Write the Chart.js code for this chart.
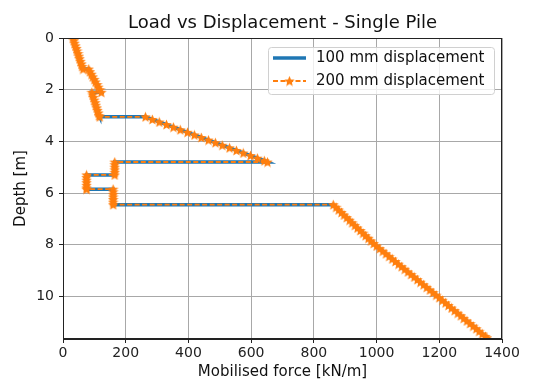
<!DOCTYPE html>
<html>
<head>
<meta charset="utf-8">
<script src="https://cdn.jsdelivr.net/npm/chart.js@4.4.1/dist/chart.umd.min.js"></script>
<style>
  html, body { margin: 0; padding: 0; background: #fff; }
  #wrap { width: 539px; height: 381px; }
</style>
</head>
<body>
<div id="wrap"><canvas id="pileChart" width="539" height="381"></canvas></div>
<script>
const chartTitle = 'Load vs Displacement - Single Pile';
const seriesNames = ['100 mm displacement', '200 mm displacement'];
const xTitle = 'Mobilised force [kN/m]';
const yTitle = 'Depth [m]';
const xTicks = [0, 200, 400, 600, 800, 1000, 1200, 1400];
const yTicks = [0, 2, 4, 6, 8, 10];

// depth below ground [m], one entry per calculation node
const depth = [
  0, 0.1, 0.2, 0.3, 0.4, 0.5, 0.6, 0.7, 0.8, 0.9, 1.0, 1.1, 1.2,
  1.2, 1.3, 1.4, 1.5, 1.6, 1.7, 1.8, 1.9, 2.0, 2.1,
  2.1, 2.2, 2.3, 2.4, 2.5, 2.6, 2.7, 2.8, 2.9, 3.0, 3.05,
  3.05, 3.15, 3.25, 3.35, 3.45, 3.55, 3.65, 3.75, 3.85, 3.95, 4.05, 4.15, 4.25, 4.35, 4.45, 4.55, 4.65, 4.75, 4.8,
  4.8, 4.9, 5.0, 5.1, 5.2, 5.3,
  5.3, 5.4, 5.5, 5.6, 5.7, 5.8, 5.85,
  5.85, 5.95, 6.05, 6.15, 6.25, 6.35, 6.45,
  6.45, 6.55, 6.65, 6.75, 6.85, 6.95, 7.05, 7.15, 7.25, 7.35,
  7.45, 7.55, 7.65, 7.75, 7.85, 7.95, 8.05, 8.15, 8.25, 8.35,
  8.45, 8.55, 8.65, 8.75, 8.85, 8.95, 9.05, 9.15, 9.25, 9.35,
  9.45, 9.55, 9.65, 9.75, 9.85, 9.95, 10.05, 10.15, 10.25, 10.35,
  10.45, 10.55, 10.65, 10.75, 10.85, 10.95, 11.05, 11.15, 11.25, 11.35,
  11.45, 11.55, 11.6
];

// mobilised force [kN/m] for 100 mm pile displacement
const force100 = [
  32, 35, 37, 40, 43, 45, 48, 51, 53, 56, 59, 61, 64,
  82, 86, 91, 95, 100, 104, 109, 113, 118, 122,
  92, 95, 97, 100, 103, 105, 108, 110, 113, 115, 117,
  263, 285, 307, 330, 352, 374, 397, 419, 441, 464, 486, 508, 531, 553, 575, 598, 620, 642, 652,
  165, 165, 165, 165, 165, 165,
  75, 75, 75, 75, 75, 75, 75,
  160, 160, 160, 160, 160, 160, 160,
  862, 871, 879, 888, 896, 905, 914, 922, 931, 939,
  948, 957, 965, 974, 982, 991, 1000, 1010, 1020, 1030,
  1040, 1050, 1060, 1070, 1080, 1090, 1100, 1110, 1120, 1130,
  1140, 1150, 1160, 1170, 1180, 1190, 1200, 1210, 1220, 1229,
  1239, 1249, 1259, 1269, 1278, 1288, 1298, 1308, 1318, 1327,
  1337, 1347, 1352
];

// mobilised force [kN/m] for 200 mm pile displacement (lies on top of the 100 mm curve)
const force200 = [
  32, 35, 37, 40, 43, 45, 48, 51, 53, 56, 59, 61, 64,
  82, 86, 91, 95, 100, 104, 109, 113, 118, 122,
  92, 95, 97, 100, 103, 105, 108, 110, 113, 115, 117,
  263, 285, 307, 330, 352, 374, 397, 419, 441, 464, 486, 508, 531, 553, 575, 598, 620, 642, 652,
  165, 165, 165, 165, 165, 165,
  75, 75, 75, 75, 75, 75, 75,
  160, 160, 160, 160, 160, 160, 160,
  862, 871, 879, 888, 896, 905, 914, 922, 931, 939,
  948, 957, 965, 974, 982, 991, 1000, 1010, 1020, 1030,
  1040, 1050, 1060, 1070, 1080, 1090, 1100, 1110, 1120, 1130,
  1140, 1150, 1160, 1170, 1180, 1190, 1200, 1210, 1220, 1229,
  1239, 1249, 1259, 1269, 1278, 1288, 1298, 1308, 1318, 1327,
  1337, 1347, 1352
];

const blue = '#1f77b4';
const orange = '#ff7f0e';
const fontName = "'DejaVu Sans', sans-serif";

function makeStar(size, color) {
  const c = document.createElement('canvas');
  c.width = size;
  c.height = size;
  const g = c.getContext('2d');
  const cx = size / 2, cy = size / 2 + 0.5, R = size / 2, r = R * 0.45;
  g.beginPath();
  for (let i = 0; i < 10; i++) {
    const rad = i % 2 ? r : R;
    const a = -Math.PI / 2 + i * Math.PI / 5;
    const px = cx + rad * Math.cos(a), py = cy + rad * Math.sin(a);
    if (i == 0) g.moveTo(px, py); else g.lineTo(px, py);
  }
  g.closePath();
  g.fillStyle = color;
  g.fill();
  return c;
}
const star = makeStar(11, orange);

function toPoints(xs) {
  return xs.map((v, i) => ({ x: v, y: depth[i] }));
}

// title, frame and legend the way matplotlib draws them
const decorations = {
  id: 'decorations',
  afterDraw(chart) {
    const ctx = chart.ctx;
    const a = chart.chartArea;
    ctx.save();
    ctx.fillStyle = '#111';
    ctx.font = '18px ' + fontName;
    ctx.textAlign = 'center';
    ctx.textBaseline = 'middle';
    ctx.fillText(chartTitle, (a.left + a.right) / 2, 23);

    ctx.strokeStyle = '#222';
    ctx.lineWidth = 1;
    ctx.strokeRect(a.left + 0.5, a.top + 0.5, a.right - a.left - 1, a.bottom - a.top - 1);

    // legend box
    const bx = 268, by = 47, bw = 226, bh = 47;
    ctx.fillStyle = 'rgba(255,255,255,0.8)';
    ctx.strokeStyle = '#d0d0d0';
    ctx.beginPath();
    ctx.roundRect(bx + 0.5, by + 0.5, bw, bh, 3);
    ctx.fill();
    ctx.stroke();

    const row1 = 58, row2 = 81;
    ctx.strokeStyle = blue;
    ctx.lineWidth = 3.5;
    ctx.beginPath();
    ctx.moveTo(273, row1);
    ctx.lineTo(306, row1);
    ctx.stroke();

    ctx.strokeStyle = orange;
    ctx.lineWidth = 1.8;
    ctx.setLineDash([5, 2.5]);
    ctx.beginPath();
    ctx.moveTo(273, row2);
    ctx.lineTo(306, row2);
    ctx.stroke();
    ctx.setLineDash([]);
    ctx.drawImage(star, 289.5 - 5.5, row2 - 5.5);

    ctx.fillStyle = '#111';
    ctx.font = '15px ' + fontName;
    ctx.textAlign = 'left';
    ctx.fillText(seriesNames[0], 316, row1);
    ctx.fillText(seriesNames[1], 316, row2);
    ctx.restore();
  }
};

Chart.defaults.font.family = fontName;

new Chart(document.getElementById('pileChart'), {
  type: 'scatter',
  data: {
    datasets: [
      {
        label: seriesNames[0],
        data: toPoints(force100),
        showLine: true,
        borderColor: blue,
        backgroundColor: blue,
        borderWidth: 3.5,
        pointRadius: 0,
        order: 1
      },
      {
        label: seriesNames[1],
        data: toPoints(force200),
        showLine: true,
        borderColor: orange,
        backgroundColor: orange,
        borderWidth: 1.8,
        borderDash: [5, 2.5],
        pointStyle: star,
        pointRadius: 5,
        order: 0
      }
    ]
  },
  options: {
    responsive: false,
    animation: false,
    layout: { padding: { top: 38, right: 37, left: 0, bottom: 0 } },
    plugins: {
      legend: { display: false },
      title: { display: false },
      tooltip: { enabled: false }
    },
    scales: {
      x: {
        type: 'linear',
        min: 0,
        max: 1400,
        afterFit(s) { s.height = 42; },
        afterBuildTicks(s) { s.ticks = xTicks.map(v => ({ value: v })); },
        grid: { color: '#a8a8a8', lineWidth: 1, tickLength: 4, tickColor: '#222' },
        border: { color: '#222', width: 1 },
        ticks: { color: '#222', font: { size: 14 }, padding: 2, maxRotation: 0, callback: v => String(v) },
        title: { display: true, text: xTitle, color: '#111', font: { size: 15 }, padding: { top: 0, bottom: 0 } }
      },
      y: {
        type: 'linear',
        reverse: true,
        min: 0,
        max: 11.65,
        afterFit(s) { s.width = 63; },
        afterBuildTicks(s) { s.ticks = yTicks.map(v => ({ value: v })); },
        grid: { color: '#a8a8a8', lineWidth: 1, tickLength: 4, tickColor: '#222' },
        border: { color: '#222', width: 1 },
        ticks: { color: '#222', font: { size: 14 }, padding: 5, callback: v => String(v) },
        title: { display: true, text: yTitle, color: '#111', font: { size: 15 }, padding: { top: 12, bottom: 0 } }
      }
    }
  },
  plugins: [decorations]
});
</script>
</body>
</html>
